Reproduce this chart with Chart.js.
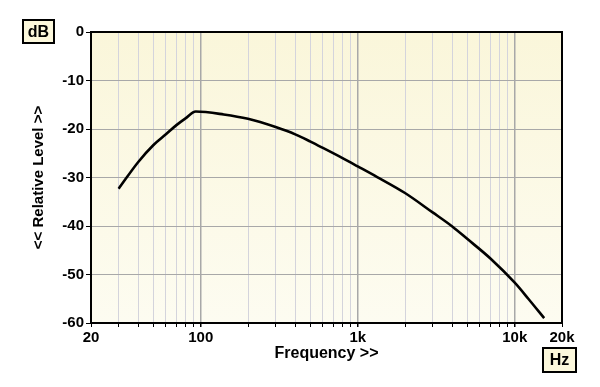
<!DOCTYPE html>
<html>
<head>
<meta charset="utf-8">
<script src="https://cdn.jsdelivr.net/npm/chart.js@4/dist/chart.umd.min.js"></script>
<style>
  body { margin: 0; background: #fff; }
  #wrap { width: 600px; height: 387px; }
</style>
</head>
<body>
<div id="wrap"><canvas id="c" width="600" height="387"></canvas></div>
<script>
// response
var freqs  = [30, 40, 50, 60, 70, 80, 93, 140, 200, 300, 400, 500, 600, 800, 1000, 1330, 2000, 3000, 4000, 5000, 7000, 10000, 12200, 15400];
var levels = [-32.3, -26.8, -23.3, -21.1, -19.2, -17.8, -16.4, -17.0, -17.9, -19.6, -21.1, -22.6, -23.9, -26.0, -27.7, -29.9, -33.2, -37.2, -40.1, -42.7, -46.7, -51.7, -55.0, -59.0];

var gridFreqs = [20, 30, 40, 50, 60, 70, 80, 90, 100, 200, 300, 400, 500, 600, 700, 800, 900,
                 1000, 2000, 3000, 4000, 5000, 6000, 7000, 8000, 9000, 10000, 20000];
var xLabels = { 20: '20', 100: '100', 1000: '1k', 10000: '10k', 20000: '20k' };
var majorFreqs = [100, 1000, 10000];

var points = freqs.map(function(f, i){ return { x: f, y: levels[i] }; });

var fontFamily = '"Liberation Sans", Arial, sans-serif';

// plot background, frame and the small unit boxes
var decor = {
	id: 'decor',
	beforeDraw: function(chart){
		var a = chart.chartArea, ctx = chart.ctx;
		var g = ctx.createLinearGradient(0, a.top, 0, a.bottom);
		g.addColorStop(0, '#faf6da');
		g.addColorStop(1, '#fdfcf1');
		ctx.save();
		ctx.fillStyle = g;
		ctx.fillRect(a.left, a.top, a.right - a.left, a.bottom - a.top);
		ctx.restore();
	},
	afterDraw: function(chart){
		var a = chart.chartArea, ctx = chart.ctx;
		ctx.save();
		ctx.strokeStyle = '#000';
		ctx.lineWidth = 2;
		ctx.strokeRect(a.left, a.top, a.right - a.left, a.bottom - a.top);

		function unitBox(x, y, w, h, txt){
			ctx.fillStyle = '#fcf8dc';
			ctx.fillRect(x, y, w, h);
			ctx.lineWidth = 2;
			ctx.strokeStyle = '#000';
			ctx.strokeRect(x, y, w, h);
			ctx.fillStyle = '#000';
			ctx.font = 'bold 16px ' + fontFamily;
			ctx.textAlign = 'center';
			ctx.textBaseline = 'middle';
			ctx.fillText(txt, x + w / 2, y + h / 2 + 1);
		}
		unitBox(23, 20, 31, 23, 'dB');
		unitBox(543, 348, 33, 24, 'Hz');
		ctx.restore();
	}
};

new Chart(document.getElementById('c'), {
	type: 'line',
	data: {
		datasets: [{
			data: points,
			borderColor: '#000',
			borderWidth: 2.6,
			pointRadius: 0,
			cubicInterpolationMode: 'monotone',
			fill: false
		}]
	},
	options: {
		responsive: false,
		animation: false,
		devicePixelRatio: 1,
		layout: { padding: { left: 20, top: 32, right: 38, bottom: 14 } },
		plugins: { legend: { display: false }, tooltip: { enabled: false } },
		scales: {
			x: {
				type: 'logarithmic',
				min: 20,
				max: 20000,
				afterBuildTicks: function(scale){
					scale.ticks = gridFreqs.map(function(v){ return { value: v }; });
				},
				afterFit: function(scale){ scale.height = 50; },
				ticks: {
					autoSkip: false,
					maxRotation: 0,
					padding: 2,
					color: '#000',
					font: { family: fontFamily, size: 15, weight: 'bold' },
					callback: function(v){ return xLabels[v] || ''; }
				},
				grid: {
					drawOnChartArea: true,
					tickLength: 4,
					tickColor: '#000',
					color: function(c){
						if (!c.tick) return '#d4d4dc';
						return majorFreqs.indexOf(c.tick.value) >= 0 ? '#a8a8a8' : '#d4d4dc';
					},
					lineWidth: function(c){
						return c.tick && majorFreqs.indexOf(c.tick.value) >= 0 ? 1.5 : 1;
					}
				},
				border: { display: false },
				title: {
					display: true,
					text: 'Frequency >>',
					color: '#000',
					font: { family: fontFamily, size: 16, weight: 'bold' },
					padding: { top: 10, bottom: 10 }
				}
			},
			y: {
				min: -60,
				max: 0,
				afterFit: function(scale){ scale.width = 71; },
				ticks: {
					stepSize: 10,
					padding: 2,
					color: '#000',
					font: { family: fontFamily, size: 15, weight: 'bold' }
				},
				grid: {
					color: '#a8a8a8',
					lineWidth: 1,
					tickLength: 5,
					tickColor: '#000'
				},
				border: { display: false },
				title: {
					display: true,
					text: '<< Relative Level >>',
					color: '#000',
					font: { family: fontFamily, size: 15, weight: 'bold' },
					padding: { top: 10, bottom: 10 }
				}
			}
		}
	},
	plugins: [decor]
});
</script>
</body>
</html>
